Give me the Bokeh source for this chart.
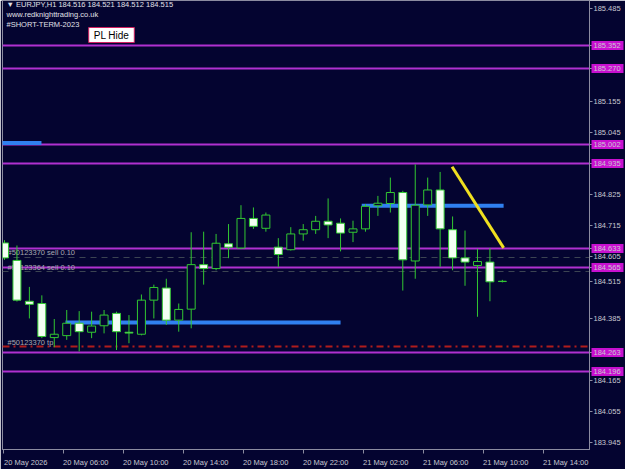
from bokeh.plotting import figure
from bokeh.models import Range1d, FixedTicker, Label, PrintfTickFormatter, ColumnDataSource
from bokeh.embed import file_html
from bokeh.resources import INLINE
from bokeh.core.properties import value

# ---------------- data ----------------
opens = [184.652, 184.590, 184.445, 184.437, 184.316, 184.323, 184.367, 184.335, 184.358, 184.402,
         184.335, 184.328, 184.449, 184.492, 184.378, 184.417, 184.575, 184.561, 184.649, 184.634,
         184.739, 184.704, 184.637, 184.628, 184.684, 184.699, 184.729, 184.722, 184.690, 184.702,
         184.784, 184.792, 184.831, 184.588, 184.787, 184.840, 184.699, 184.599, 184.572, 184.584,
         184.516]
highs = [184.662, 184.643, 184.496, 184.466, 184.382, 184.414, 184.410, 184.408, 184.414, 184.408,
         184.396, 184.469, 184.504, 184.525, 184.437, 184.690, 184.692, 184.684, 184.719, 184.786,
         184.778, 184.760, 184.669, 184.708, 184.719, 184.748, 184.810, 184.739, 184.731, 184.790,
         184.819, 184.884, 184.837, 184.931, 184.884, 184.904, 184.746, 184.696, 184.631, 184.634,
         184.521]
lows = [184.592, 184.444, 184.384, 184.314, 184.282, 184.308, 184.267, 184.314, 184.331, 184.272,
        184.296, 184.324, 184.384, 184.361, 184.337, 184.349, 184.504, 184.555, 184.598, 184.631,
        184.702, 184.692, 184.567, 184.625, 184.660, 184.684, 184.669, 184.622, 184.655, 184.692,
        184.748, 184.760, 184.483, 184.525, 184.748, 184.567, 184.555, 184.500, 184.390, 184.445,
        184.512]
closes = [184.599, 184.449, 184.434, 184.320, 184.328, 184.367, 184.337, 184.357, 184.396, 184.337,
          184.332, 184.449, 184.494, 184.378, 184.416, 184.575, 184.561, 184.651, 184.637, 184.739,
          184.711, 184.751, 184.611, 184.684, 184.699, 184.729, 184.716, 184.687, 184.702, 184.782,
          184.793, 184.831, 184.592, 184.786, 184.840, 184.702, 184.599, 184.584, 184.586, 184.514,
          184.515]

level_prices = [185.352, 185.270, 185.002, 184.935, 184.633, 184.565, 184.263, 184.196]
last_price = 184.515

order_texts = ["#50123370 sell 0.10", "#50123364 sell 0.10", "#50123370 tp"]
order_prices = [184.602, 184.550, 184.284]

blue_x0 = [-1.0, 28.7, 4.9]
blue_x1 = [2.97, 40.1, 27.0]
blue_y = [185.0066, 184.784, 184.370]

trend_x = [35.96, 40.1]
trend_y = [184.9227, 184.6346]

price_ticks = [183.945, 184.055, 184.165, 184.275, 184.385, 184.495, 184.605, 184.715,
               184.825, 184.935, 185.045, 185.155, 185.265, 185.375, 185.485]
time_labels = ["20 May 2026", "20 May 06:00", "20 May 10:00", "20 May 14:00", "20 May 18:00",
               "20 May 22:00", "21 May 02:00", "21 May 06:00", "21 May 10:00", "21 May 14:00"]

header_lines = ["\u25BC EURJPY,H1  184.516 184.521 184.512 184.515",
                "www.redknighttrading.co.uk",
                "#SHORT-TERM-2023"]

# ---------------- style ----------------
BG = "#040430"
MAG = "#b030d0"
BOX = "#c810d0"
GREEN = "#32c832"
WHITE = "#f4fff4"
AXIS = "#8c8ca0"
TXT = "#c8c8d0"
FONT = "Liberation Sans"
FS = "7.5px"
X_END = 47.0
BOX_OUT = 34

p = figure(width=625, height=469, output_backend="svg", toolbar_location=None,
           x_range=Range1d(-0.16, X_END), y_range=Range1d(183.9188, 185.5126),
           y_axis_location="right",
           min_border_left=2, min_border_right=36, min_border_top=0, min_border_bottom=17,
           background_fill_color=BG, border_fill_color=BG, outline_line_color=AXIS)
p.xgrid.visible = False
p.ygrid.visible = False

# y axis (right): regular price ticks plus the level / last-price labels;
# the magenta level boxes are drawn as thick minor ticks behind their labels,
# and a negative standoff pulls the labels back next to the axis line
shown_ticks = [t for t in price_ticks
               if min(abs(t - b) for b in level_prices + [last_price]) > 0.025]
ya = p.yaxis[0]
ya.ticker = FixedTicker(ticks=shown_ticks + level_prices + [last_price], minor_ticks=level_prices)
ya.formatter = PrintfTickFormatter(format="%.3f")
ya.axis_line_color = AXIS
ya.major_tick_line_color = AXIS
ya.major_tick_out = 3
ya.major_tick_in = 0
ya.minor_tick_line_color = BOX
ya.minor_tick_line_width = 9
ya.minor_tick_out = BOX_OUT
ya.minor_tick_in = -2
ya.major_label_standoff = 4 - BOX_OUT
ya.major_label_text_font = FONT
ya.major_label_text_font_size = FS
ya.major_label_text_color = TXT

# x axis (bottom): tick marks as minor ticks, labels shifted to start at ticks
tick_pos = [round(-0.1 + 4.82 * i, 3) for i in range(len(time_labels))]
label_pos = [round(t + 1.81, 3) for t in tick_pos]
xa = p.xaxis[0]
xa.ticker = FixedTicker(ticks=label_pos, minor_ticks=tick_pos)
xa.major_label_overrides = {lp: lab for lp, lab in zip(label_pos, time_labels)}
xa.axis_line_color = AXIS
xa.major_tick_line_color = None
xa.major_tick_out = 0
xa.major_tick_in = 0
xa.minor_tick_line_color = AXIS
xa.minor_tick_out = 4
xa.minor_tick_in = 0
xa.major_label_standoff = 4
xa.major_label_text_font = FONT
xa.major_label_text_font_size = FS
xa.major_label_text_color = TXT

# horizontal levels
p.hspan(y=level_prices, line_color=MAG, line_width=2)
p.hspan(y=order_prices[:2], line_color="#3c4452", line_width=1, line_dash="6 5")
p.hspan(y=order_prices[2:], line_color="#b01c1c", line_width=2, line_dash="7 4 2 4")

# blue lines
p.segment(x0=blue_x0, y0=blue_y, x1=blue_x1, y1=blue_y, line_color="#3080f0", line_width=4)

# order texts
p.text(x=[0.24] * len(order_texts), y=order_prices, text=order_texts,
       text_font=value(FONT), text_font_size=FS, text_color="#a8a8b0",
       text_baseline="bottom", text_align="left")

# candles
n = len(opens)
idx = list(range(n))
src = ColumnDataSource(dict(
    x=idx, o=opens, h=highs, l=lows, c=closes,
    top=[max(a, b) for a, b in zip(opens, closes)],
    bot=[min(a, b) for a, b in zip(opens, closes)],
    fill=[BG if c > o else WHITE for o, c in zip(opens, closes)],
))
p.segment(x0="x", y0="h", x1="x", y1="l", source=src, line_color=GREEN, line_width=1)
p.vbar(x="x", top="top", bottom="bot", width=0.64, source=src,
       fill_color="fill", line_color=GREEN, line_width=1)

# trend line
p.line(x=trend_x, y=trend_y, line_color="#f0e020", line_width=3)

# header texts
for i, t in enumerate(header_lines):
    p.add_layout(Label(x=4, y=445 - 10 * i, x_units="screen", y_units="screen", text=t,
                       text_font=FONT, text_font_size=FS, text_color="#e0e0e8",
                       text_align="left", text_baseline="middle"))

p.add_layout(Label(x=109, y=414.5, x_units="screen", y_units="screen", text="PL Hide",
                   text_font=FONT, text_font_size="10px", text_color="#000000",
                   text_align="center", text_baseline="middle",
                   background_fill_color="#ffffff", border_line_color="#d02060",
                   padding=(5, 2)))

open("out.html", "w").write(file_html(p, INLINE))
